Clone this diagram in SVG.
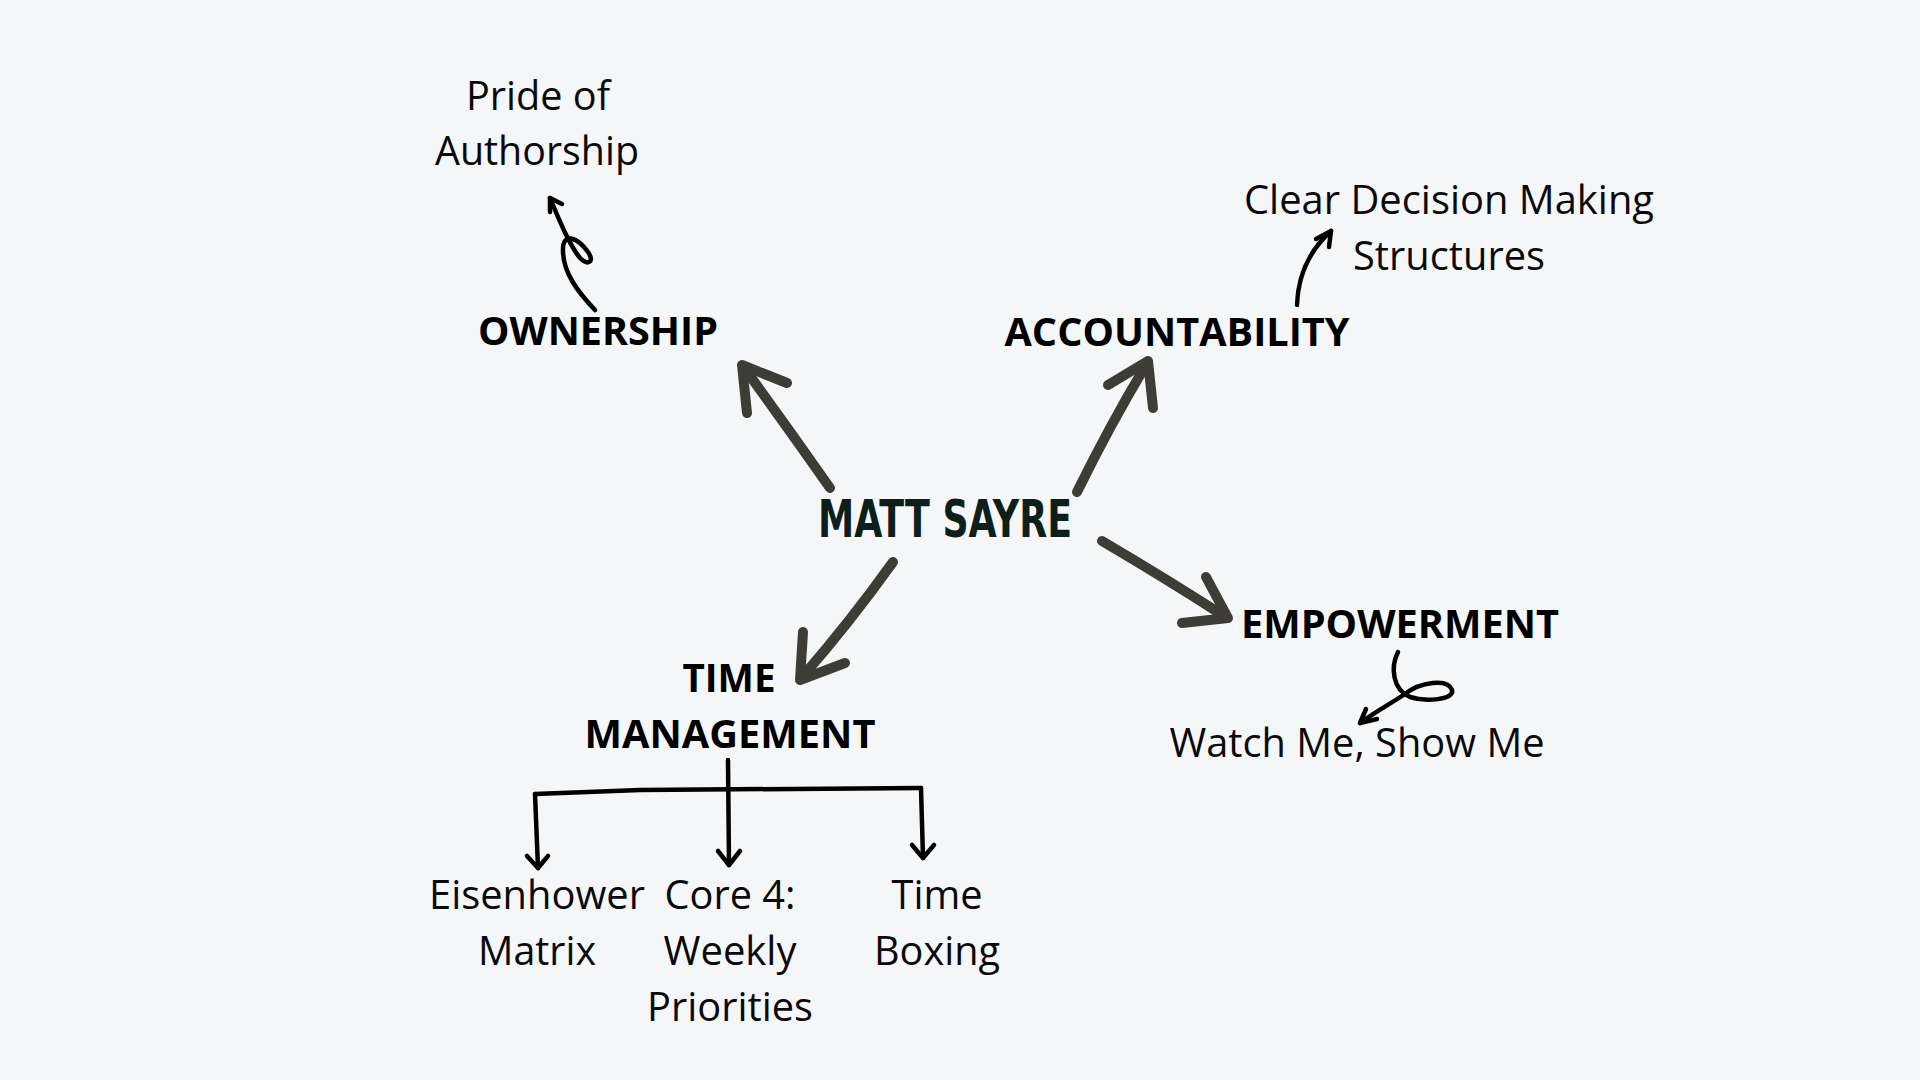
<svg xmlns="http://www.w3.org/2000/svg" width="1920" height="1080" viewBox="0 0 1920 1080">
<style>
.t{font-family:"Open Sans","Liberation Sans",sans-serif;fill:#0a0a0a;text-anchor:middle;font-size:40px}
.b{font-weight:700;fill:#000}
.big{fill:none;stroke:#3d3c36;stroke-width:10;stroke-linecap:round;stroke-linejoin:round}
.sm{fill:none;stroke:#000;stroke-width:4.5;stroke-linecap:round;stroke-linejoin:round}
</style>
<rect width="1920" height="1080" fill="#f4f6f8"/>
<g id="center">
<text x="945" y="537" font-family="DejaVu Sans Condensed,DejaVu Sans,sans-serif" font-weight="700" font-size="52" fill="#0c1f1a" text-anchor="middle" textLength="254" lengthAdjust="spacingAndGlyphs">MATT SAYRE</text>
</g>
<g id="ownership"><text class="t b" x="598" y="345" textLength="240" lengthAdjust="spacingAndGlyphs">OWNERSHIP</text></g>
<g id="pride">
<text class="t" x="538" y="110" textLength="144" lengthAdjust="spacingAndGlyphs">Pride of</text>
<text class="t" x="537" y="165" textLength="204" lengthAdjust="spacingAndGlyphs">Authorship</text>
</g>
<g id="accountability"><text class="t b" x="1177" y="346" textLength="345" lengthAdjust="spacingAndGlyphs">ACCOUNTABILITY</text></g>
<g id="clear">
<text class="t" x="1449" y="214" textLength="410" lengthAdjust="spacingAndGlyphs">Clear Decision Making</text>
<text class="t" x="1449" y="270" textLength="192" lengthAdjust="spacingAndGlyphs">Structures</text>
</g>
<g id="empowerment"><text class="t b" x="1400" y="638" textLength="318" lengthAdjust="spacingAndGlyphs">EMPOWERMENT</text></g>
<g id="watch"><text class="t" x="1357" y="757" textLength="375" lengthAdjust="spacingAndGlyphs">Watch Me, Show Me</text></g>
<g id="time-management">
<text class="t b" x="729" y="692" textLength="93" lengthAdjust="spacingAndGlyphs">TIME</text>
<text class="t b" x="730" y="748" textLength="291" lengthAdjust="spacingAndGlyphs">MANAGEMENT</text>
</g>
<g id="eisenhower">
<text class="t" x="537" y="909" textLength="216" lengthAdjust="spacingAndGlyphs">Eisenhower</text>
<text class="t" x="537" y="965" textLength="118" lengthAdjust="spacingAndGlyphs">Matrix</text>
</g>
<g id="core4">
<text class="t" x="730" y="909" textLength="131" lengthAdjust="spacingAndGlyphs">Core 4:</text>
<text class="t" x="730" y="965" textLength="133" lengthAdjust="spacingAndGlyphs">Weekly</text>
<text class="t" x="730" y="1021" textLength="166" lengthAdjust="spacingAndGlyphs">Priorities</text>
</g>
<g id="timeboxing">
<text class="t" x="937" y="909" textLength="91" lengthAdjust="spacingAndGlyphs">Time</text>
<text class="t" x="937" y="965" textLength="126" lengthAdjust="spacingAndGlyphs">Boxing</text>
</g>
<g id="connectors">
<path class="big" d="M830,488 Q788,428 745,369"/>
<path class="big" d="M787,383 L742,365 L747,413"/>
<path class="big" d="M1077,492 Q1110,425 1146,365"/>
<path class="big" d="M1108,385 L1148,361 L1153,408"/>
<path class="big" d="M1102,541 Q1165,578 1224,616"/>
<path class="big" d="M1206,577 L1228,618 L1182,623"/>
<path class="big" d="M893,562 Q850,622 803,676"/>
<path class="big" d="M803,632 L800,680 L845,663"/>
<path class="sm" d="M595,310 C578,292 562,272 563,248 C564,232 578,238 588,252 C595,262 588,266 580,258 C570,246 560,222 550,198"/>
<path class="sm" d="M562,204 L550,198 L550,212"/>
<path class="sm" d="M1297,305 C1298,275 1310,250 1331,231"/>
<path class="sm" d="M1316,239 L1331,231 L1329,247"/>
<path class="sm" d="M1398,652 C1390,668 1393,690 1410,697 C1425,702 1455,700 1452,690 C1448,678 1420,682 1405,694 C1390,704 1375,712 1360,723"/>
<path class="sm" d="M1366,709 L1360,723 L1377,719"/>
<path class="sm" d="M728,760 L729,865"/>
<path class="sm" d="M535,794 L640,790 L921,788"/>
<path class="sm" d="M535,794 L538,868"/>
<path class="sm" d="M921,788 L923,858"/>
<path class="sm" d="M527,856 L538,868 L548,856"/>
<path class="sm" d="M718,851 L729,865 L740,851"/>
<path class="sm" d="M912,845 L923,858 L934,845"/>
</g>
</svg>
